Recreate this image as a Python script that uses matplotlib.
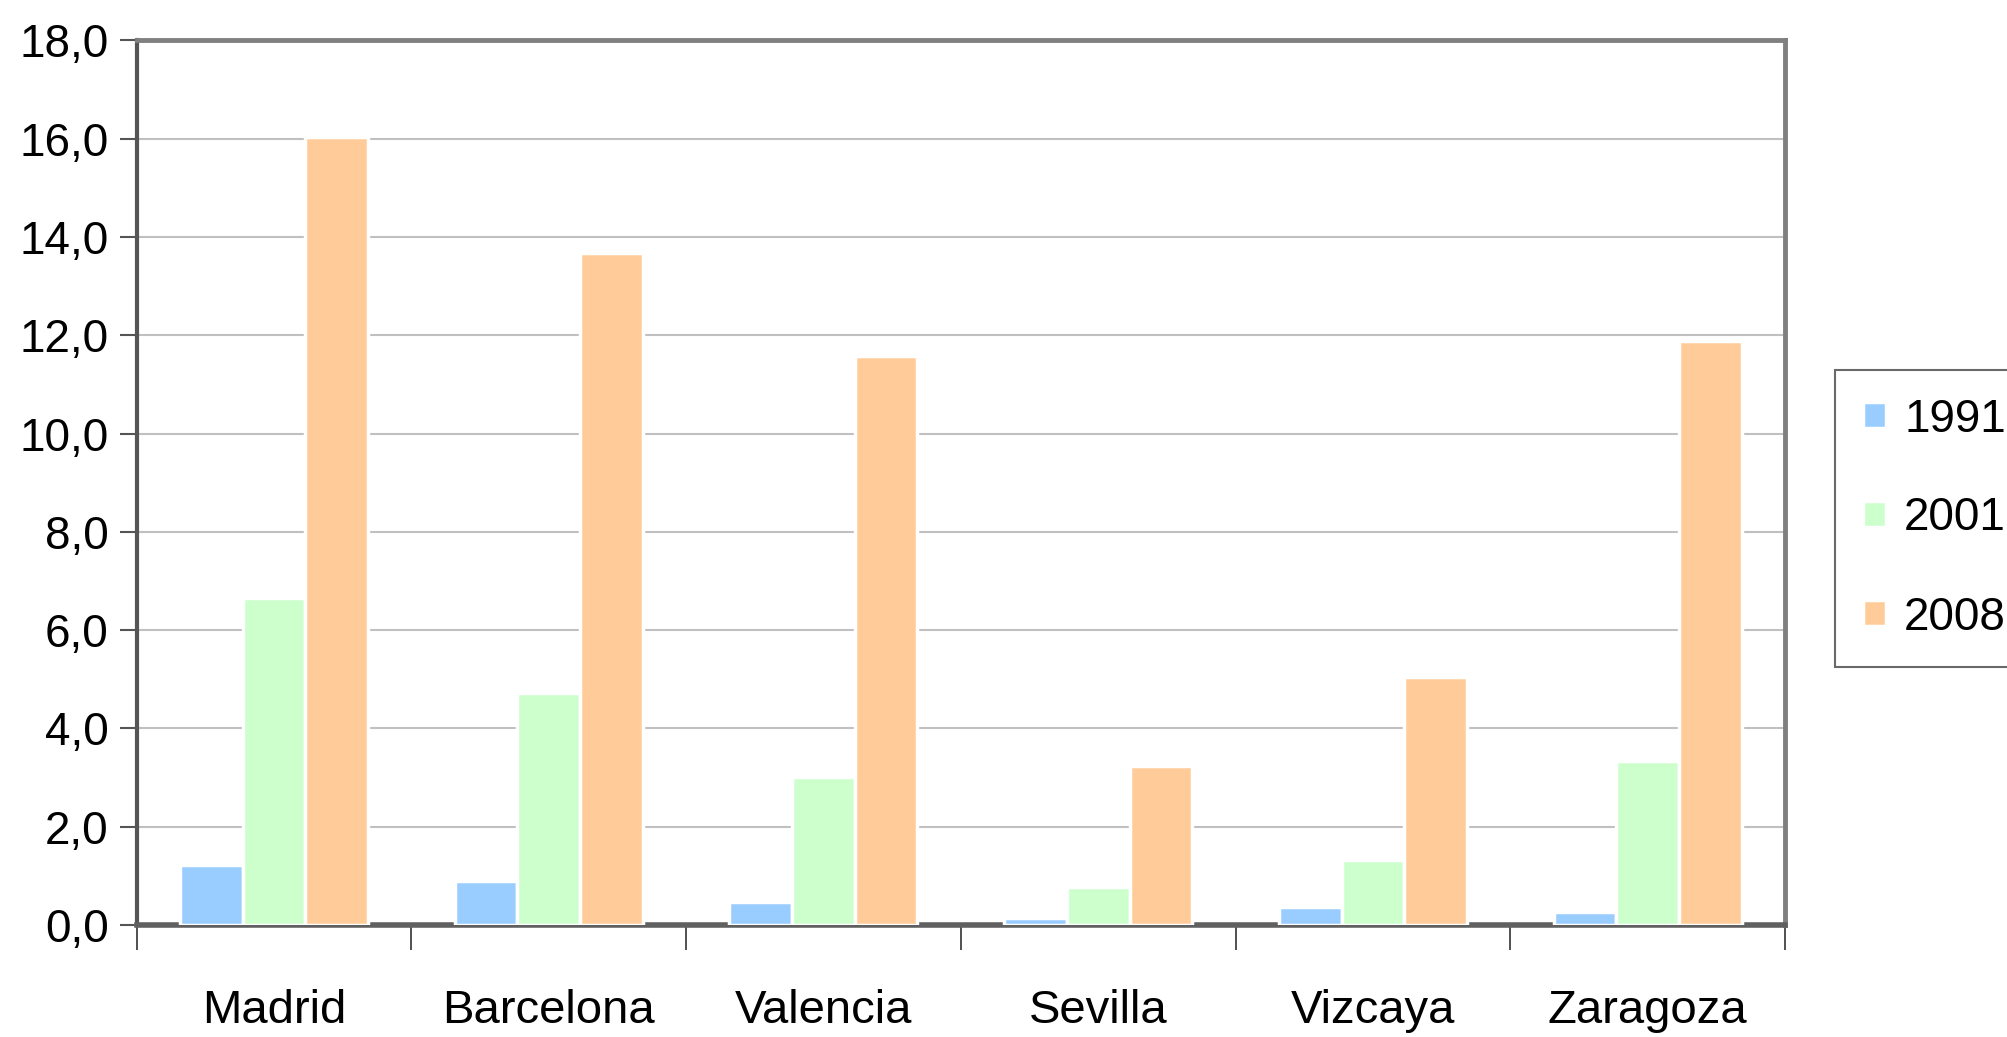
import numpy as np
import matplotlib
matplotlib.use('Agg')
import matplotlib.pyplot as plt
from matplotlib.ticker import FuncFormatter

plt.rcParams['font.family'] = ['Liberation Sans', 'DejaVu Sans']

# data
provincias = ['Madrid', 'Barcelona', 'Valencia', 'Sevilla', 'Vizcaya', 'Zaragoza']
years = ['1991', '2001', '2008']
v1991 = [1.22, 0.89, 0.47, 0.15, 0.37, 0.26]
v2001 = [6.65, 4.72, 3.02, 0.78, 1.32, 3.34]
v2008 = [16.03, 13.68, 11.57, 3.23, 5.04, 11.88]
colors = ['#99CCFF', '#CCFFCC', '#FFCC99']

fig = plt.figure(figsize=(20.08, 10.37), dpi=100)
ax = fig.add_axes([0.068, 0.108, 0.821, 0.853])

x = np.arange(len(provincias))
w = 0.228
for i, (vals, c, lab) in enumerate(zip([v1991, v2001, v2008], colors, years)):
    ax.bar(x + (i - 1) * w, vals, width=w, color=c, edgecolor='white',
           linewidth=2.5, label=lab, zorder=3)

ax.set_xlim(-0.5, len(provincias) - 0.5)
ax.set_ylim(0, 18)
ax.set_yticks(np.arange(0, 18.1, 2))
ax.yaxis.set_major_formatter(FuncFormatter(lambda v, p: ('%.1f' % v).replace('.', ',')))
ax.yaxis.grid(True, color='#c0c0c0', linewidth=1.5, zorder=0)
ax.set_axisbelow(True)

# category labels centred, ticks at group boundaries
ax.set_xticks(x)
ax.set_xticklabels(provincias)
ax.set_xticks(np.arange(-0.5, len(provincias)), minor=True)
ax.tick_params(axis='x', which='major', length=0, pad=46, labelsize=34)
ax.tick_params(axis='x', which='minor', length=18, width=1.2, color='#333333')
ax.tick_params(axis='y', length=12, width=1.5, color='#555555', labelsize=33, pad=8)

for side in ['top', 'right']:
    ax.spines[side].set_color('#808080')
    ax.spines[side].set_linewidth(3.5)
ax.spines['left'].set_color('#555555')
ax.spines['left'].set_linewidth(3)
ax.spines['bottom'].set_color('#606060')
ax.spines['bottom'].set_linewidth(4)

leg = fig.legend(loc='center left', bbox_to_anchor=(0.914, 0.5), fontsize=33,
                 frameon=True, fancybox=False, edgecolor='#444444',
                 handlelength=0.5, handleheight=0.5, handletextpad=0.4,
                 labelspacing=1.2, borderpad=0.6, borderaxespad=0)
leg.get_frame().set_linewidth(1.5)

fig.savefig('out.png', dpi=100)
